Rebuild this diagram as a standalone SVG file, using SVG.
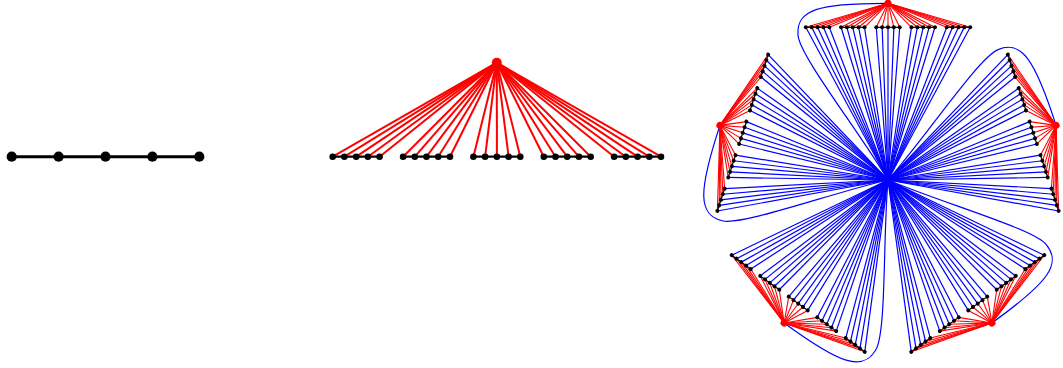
<svg xmlns="http://www.w3.org/2000/svg" width="1063" height="368" viewBox="0 0 1063 368">
<style>
.bk{stroke:#000;fill:none}
.rd{stroke:#f00;fill:none}
.bl{stroke:#00f;fill:none}
.n{fill:#000}
.a{fill:#f00}
</style>
<defs>
<g id="petal-blue" class="bl" stroke-width="1.2">
<line x2="-82.18" y2="-152.7"/><line x2="-76.31" y2="-152.7"/><line x2="-70.44" y2="-152.7"/><line x2="-64.57" y2="-152.7"/><line x2="-58.7" y2="-152.7"/>
<line x2="-46.96" y2="-152.7"/><line x2="-41.09" y2="-152.7"/><line x2="-35.22" y2="-152.7"/><line x2="-29.35" y2="-152.7"/><line x2="-23.48" y2="-152.7"/>
<line x2="-11.74" y2="-152.7"/><line x2="-5.87" y2="-152.7"/><line x2="0" y2="-152.7"/><line x2="5.87" y2="-152.7"/><line x2="11.74" y2="-152.7"/>
<line x2="23.48" y2="-152.7"/><line x2="29.35" y2="-152.7"/><line x2="35.22" y2="-152.7"/><line x2="41.09" y2="-152.7"/><line x2="46.96" y2="-152.7"/>
<line x2="58.7" y2="-152.7"/><line x2="64.57" y2="-152.7"/><line x2="70.44" y2="-152.7"/><line x2="76.31" y2="-152.7"/><line x2="82.18" y2="-152.7"/>
<path d="M0,-176.7 C-70,-177 -92,-170 -90,-145 C-89,-125 -30,-50 0,0"/>
</g>
<g id="petal-red" class="rd" stroke-width="1.1">
<line y1="-176.7" x2="-82.18" y2="-152.7"/><line y1="-176.7" x2="-76.31" y2="-152.7"/><line y1="-176.7" x2="-70.44" y2="-152.7"/><line y1="-176.7" x2="-64.57" y2="-152.7"/><line y1="-176.7" x2="-58.7" y2="-152.7"/>
<line y1="-176.7" x2="-46.96" y2="-152.7"/><line y1="-176.7" x2="-41.09" y2="-152.7"/><line y1="-176.7" x2="-35.22" y2="-152.7"/><line y1="-176.7" x2="-29.35" y2="-152.7"/><line y1="-176.7" x2="-23.48" y2="-152.7"/>
<line y1="-176.7" x2="-11.74" y2="-152.7"/><line y1="-176.7" x2="-5.87" y2="-152.7"/><line y1="-176.7" x2="0" y2="-152.7"/><line y1="-176.7" x2="5.87" y2="-152.7"/><line y1="-176.7" x2="11.74" y2="-152.7"/>
<line y1="-176.7" x2="23.48" y2="-152.7"/><line y1="-176.7" x2="29.35" y2="-152.7"/><line y1="-176.7" x2="35.22" y2="-152.7"/><line y1="-176.7" x2="41.09" y2="-152.7"/><line y1="-176.7" x2="46.96" y2="-152.7"/>
<line y1="-176.7" x2="58.7" y2="-152.7"/><line y1="-176.7" x2="64.57" y2="-152.7"/><line y1="-176.7" x2="70.44" y2="-152.7"/><line y1="-176.7" x2="76.31" y2="-152.7"/><line y1="-176.7" x2="82.18" y2="-152.7"/>
</g>
<g id="petal-black" class="bk" stroke-width="1.2">
<line x1="-82.18" y1="-152.7" x2="-58.7" y2="-152.7"/>
<line x1="-46.96" y1="-152.7" x2="-23.48" y2="-152.7"/>
<line x1="-11.74" y1="-152.7" x2="11.74" y2="-152.7"/>
<line x1="23.48" y1="-152.7" x2="46.96" y2="-152.7"/>
<line x1="58.7" y1="-152.7" x2="82.18" y2="-152.7"/>
</g>
<g id="petal-nodes">
<g class="n">
<circle cx="-82.18" cy="-152.7" r="2"/><circle cx="-76.31" cy="-152.7" r="2"/><circle cx="-70.44" cy="-152.7" r="2"/><circle cx="-64.57" cy="-152.7" r="2"/><circle cx="-58.7" cy="-152.7" r="2"/>
<circle cx="-46.96" cy="-152.7" r="2"/><circle cx="-41.09" cy="-152.7" r="2"/><circle cx="-35.22" cy="-152.7" r="2"/><circle cx="-29.35" cy="-152.7" r="2"/><circle cx="-23.48" cy="-152.7" r="2"/>
<circle cx="-11.74" cy="-152.7" r="2"/><circle cx="-5.87" cy="-152.7" r="2"/><circle cx="0" cy="-152.7" r="2"/><circle cx="5.87" cy="-152.7" r="2"/><circle cx="11.74" cy="-152.7" r="2"/>
<circle cx="23.48" cy="-152.7" r="2"/><circle cx="29.35" cy="-152.7" r="2"/><circle cx="35.22" cy="-152.7" r="2"/><circle cx="41.09" cy="-152.7" r="2"/><circle cx="46.96" cy="-152.7" r="2"/>
<circle cx="58.7" cy="-152.7" r="2"/><circle cx="64.57" cy="-152.7" r="2"/><circle cx="70.44" cy="-152.7" r="2"/><circle cx="76.31" cy="-152.7" r="2"/><circle cx="82.18" cy="-152.7" r="2"/>
</g>
<circle class="a" cx="0" cy="-176.7" r="3.6"/>
</g>
</defs>

<g id="connectors">
<g id="path-edges" class="bk" stroke-width="3">
<line x1="11.7" y1="156.7" x2="199.3" y2="156.7"/>
</g>
<g id="fan-edges">
<g class="rd" stroke-width="2">
<line x1="496.8" y1="62.7" x2="332.7" y2="156.7"/><line x1="496.8" y1="62.7" x2="344.4" y2="156.7"/><line x1="496.8" y1="62.7" x2="356.2" y2="156.7"/><line x1="496.8" y1="62.7" x2="367.9" y2="156.7"/><line x1="496.8" y1="62.7" x2="379.6" y2="156.7"/>
<line x1="496.8" y1="62.7" x2="403.1" y2="156.7"/><line x1="496.8" y1="62.7" x2="414.8" y2="156.7"/><line x1="496.8" y1="62.7" x2="426.5" y2="156.7"/><line x1="496.8" y1="62.7" x2="438.2" y2="156.7"/><line x1="496.8" y1="62.7" x2="450.0" y2="156.7"/>
<line x1="496.8" y1="62.7" x2="473.4" y2="156.7"/><line x1="496.8" y1="62.7" x2="485.1" y2="156.7"/><line x1="496.8" y1="62.7" x2="496.9" y2="156.7"/><line x1="496.8" y1="62.7" x2="508.6" y2="156.7"/><line x1="496.8" y1="62.7" x2="520.3" y2="156.7"/>
<line x1="496.8" y1="62.7" x2="543.8" y2="156.7"/><line x1="496.8" y1="62.7" x2="555.5" y2="156.7"/><line x1="496.8" y1="62.7" x2="567.2" y2="156.7"/><line x1="496.8" y1="62.7" x2="578.9" y2="156.7"/><line x1="496.8" y1="62.7" x2="590.7" y2="156.7"/>
<line x1="496.8" y1="62.7" x2="614.1" y2="156.7"/><line x1="496.8" y1="62.7" x2="625.8" y2="156.7"/><line x1="496.8" y1="62.7" x2="637.6" y2="156.7"/><line x1="496.8" y1="62.7" x2="649.3" y2="156.7"/><line x1="496.8" y1="62.7" x2="661.0" y2="156.7"/>
</g>
<g class="bk" stroke-width="2.2">
<line x1="332.7" y1="156.7" x2="379.6" y2="156.7"/>
<line x1="403.1" y1="156.7" x2="450.0" y2="156.7"/>
<line x1="473.4" y1="156.7" x2="520.3" y2="156.7"/>
<line x1="543.8" y1="156.7" x2="590.7" y2="156.7"/>
<line x1="614.1" y1="156.7" x2="661.0" y2="156.7"/>
</g>
</g>
<g id="flower-edges">
<use href="#petal-blue" transform="translate(888 180)"/>
<use href="#petal-blue" transform="translate(888 180) rotate(72)"/>
<use href="#petal-blue" transform="translate(888 180) rotate(144)"/>
<use href="#petal-blue" transform="translate(888 180) rotate(216)"/>
<use href="#petal-blue" transform="translate(888 180) rotate(288)"/>
<use href="#petal-red" transform="translate(888 180)"/>
<use href="#petal-red" transform="translate(888 180) rotate(72)"/>
<use href="#petal-red" transform="translate(888 180) rotate(144)"/>
<use href="#petal-red" transform="translate(888 180) rotate(216)"/>
<use href="#petal-red" transform="translate(888 180) rotate(288)"/>
<use href="#petal-black" transform="translate(888 180)"/>
<use href="#petal-black" transform="translate(888 180) rotate(72)"/>
<use href="#petal-black" transform="translate(888 180) rotate(144)"/>
<use href="#petal-black" transform="translate(888 180) rotate(216)"/>
<use href="#petal-black" transform="translate(888 180) rotate(288)"/>
</g>
</g>

<g id="path-nodes" class="n">
<circle id="p1" cx="11.7" cy="156.7" r="5.1"/>
<circle id="p2" cx="58.6" cy="156.7" r="5.1"/>
<circle id="p3" cx="105.5" cy="156.7" r="5.1"/>
<circle id="p4" cx="152.4" cy="156.7" r="5.1"/>
<circle id="p5" cx="199.3" cy="156.7" r="5.1"/>
</g>
<g id="fan-nodes">
<g class="n">
<circle cx="332.7" cy="156.7" r="3.3"/><circle cx="344.4" cy="156.7" r="3.3"/><circle cx="356.2" cy="156.7" r="3.3"/><circle cx="367.9" cy="156.7" r="3.3"/><circle cx="379.6" cy="156.7" r="3.3"/>
<circle cx="403.1" cy="156.7" r="3.3"/><circle cx="414.8" cy="156.7" r="3.3"/><circle cx="426.5" cy="156.7" r="3.3"/><circle cx="438.2" cy="156.7" r="3.3"/><circle cx="450.0" cy="156.7" r="3.3"/>
<circle cx="473.4" cy="156.7" r="3.3"/><circle cx="485.1" cy="156.7" r="3.3"/><circle cx="496.9" cy="156.7" r="3.3"/><circle cx="508.6" cy="156.7" r="3.3"/><circle cx="520.3" cy="156.7" r="3.3"/>
<circle cx="543.8" cy="156.7" r="3.3"/><circle cx="555.5" cy="156.7" r="3.3"/><circle cx="567.2" cy="156.7" r="3.3"/><circle cx="578.9" cy="156.7" r="3.3"/><circle cx="590.7" cy="156.7" r="3.3"/>
<circle cx="614.1" cy="156.7" r="3.3"/><circle cx="625.8" cy="156.7" r="3.3"/><circle cx="637.6" cy="156.7" r="3.3"/><circle cx="649.3" cy="156.7" r="3.3"/><circle cx="661.0" cy="156.7" r="3.3"/>
</g>
<circle id="fan-apex" class="a" cx="496.8" cy="62.7" r="5"/>
</g>
<g id="flower-nodes">
<use id="petal-1" href="#petal-nodes" transform="translate(888 180)"/>
<use id="petal-2" href="#petal-nodes" transform="translate(888 180) rotate(72)"/>
<use id="petal-3" href="#petal-nodes" transform="translate(888 180) rotate(144)"/>
<use id="petal-4" href="#petal-nodes" transform="translate(888 180) rotate(216)"/>
<use id="petal-5" href="#petal-nodes" transform="translate(888 180) rotate(288)"/>
</g>
</svg>
